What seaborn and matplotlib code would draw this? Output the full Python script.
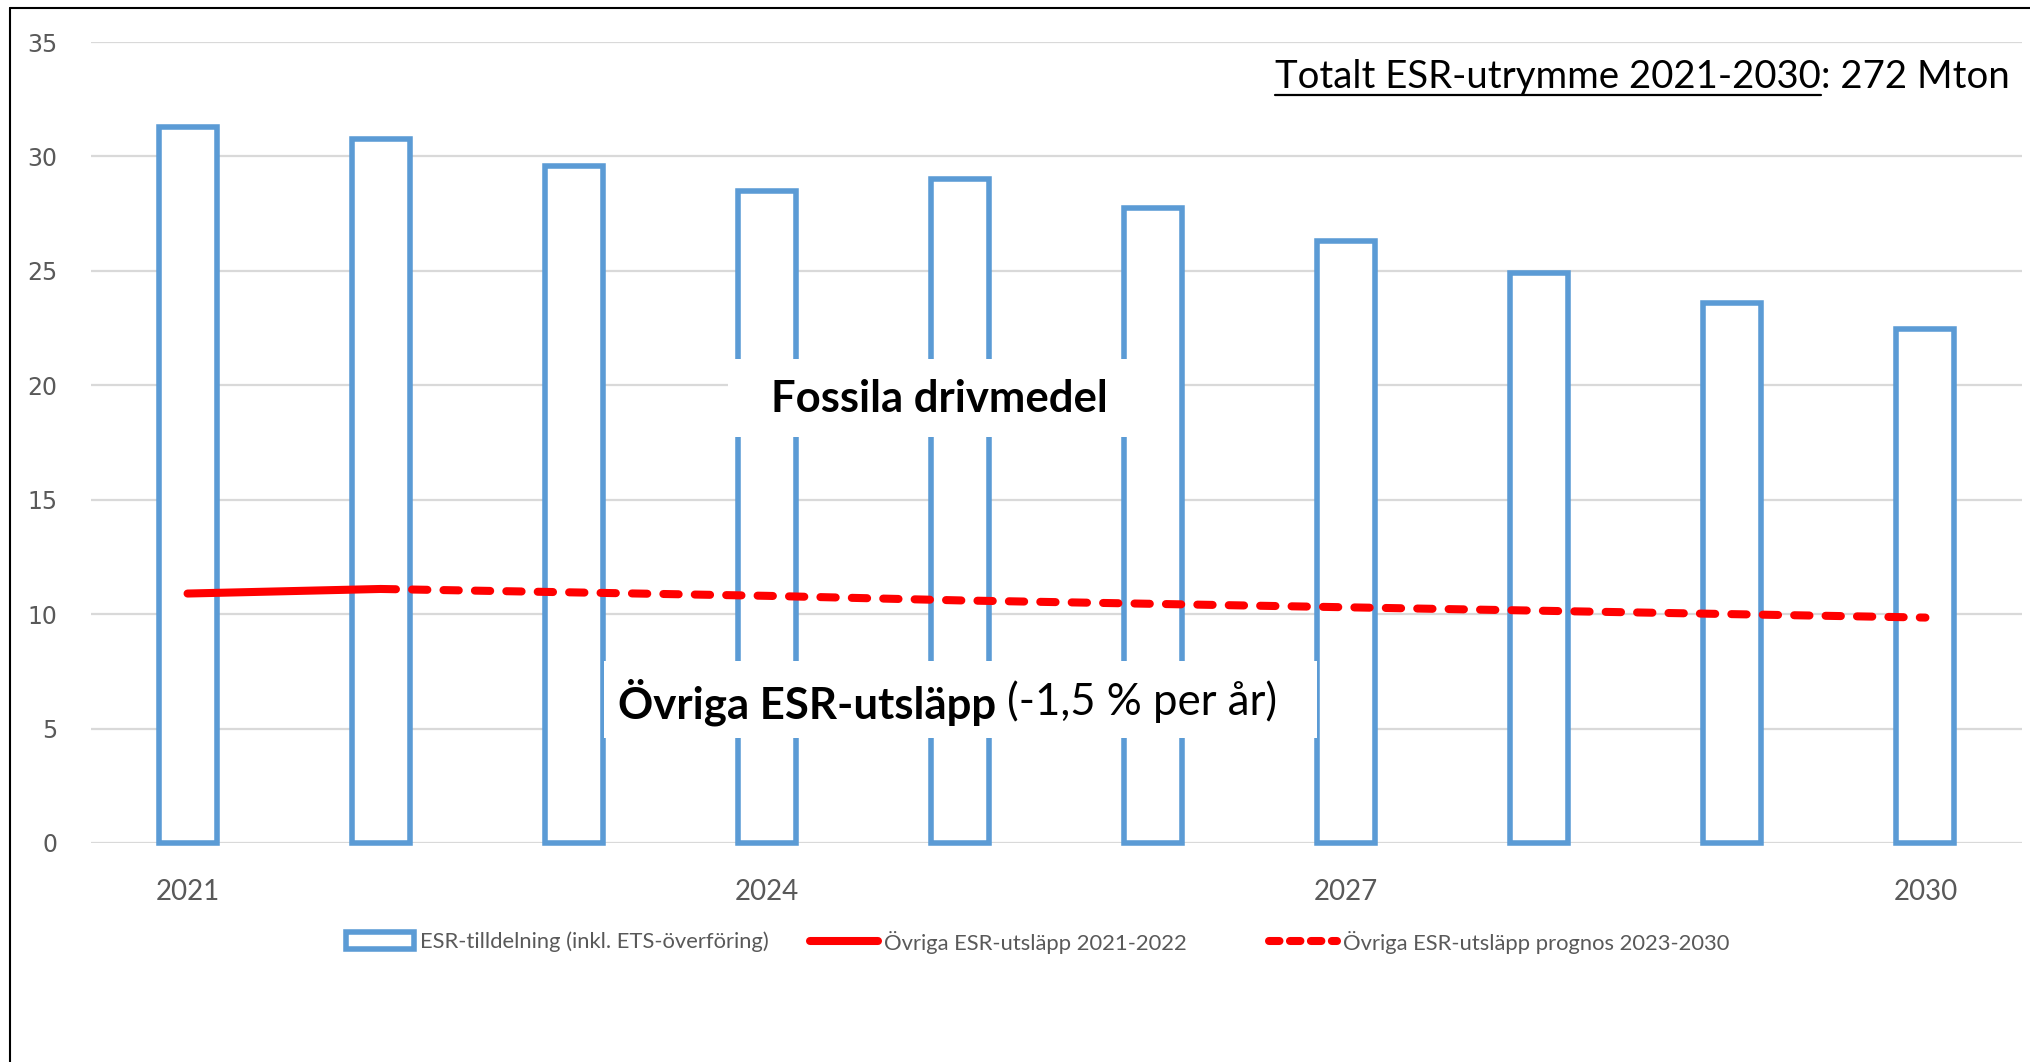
import matplotlib
matplotlib.use("Agg")
import matplotlib.pyplot as plt
import seaborn as sns
import pandas as pd
from matplotlib.lines import Line2D
from matplotlib.patches import Rectangle, Patch

# ---------------- data ----------------
years = [2021, 2022, 2023, 2024, 2025, 2026, 2027, 2028, 2029, 2030]
allocation = [31.3, 30.75, 29.6, 28.5, 29.0, 27.75, 26.3, 24.9, 23.6, 22.45]
actual_years = [2021, 2022]
actual = [10.9, 11.1]
forecast_years = [2022, 2023, 2024, 2025, 2026, 2027, 2028, 2029, 2030]
forecast = [11.1, 10.95, 10.8, 10.6, 10.45, 10.3, 10.15, 10.0, 9.85]
xtick_years = [2021, 2024, 2027, 2030]
yticks = [0, 5, 10, 15, 20, 25, 30, 35]

title_underlined = "Totalt ESR-utrymme 2021-2030"
title_rest = ": 272 Mton"
label_fossil = "Fossila drivmedel"
label_other_bold = "Övriga ESR-utsläpp"
label_other_rest = "(-1,5 % per år)"
legend_labels = ["ESR-tilldelning (inkl. ETS-överföring)",
                 "Övriga ESR-utsläpp 2021-2022",
                 "Övriga ESR-utsläpp prognos 2023-2030"]

BLUE = "#5B9BD5"
RED = "#FF0000"
GRAY = "#595959"
GRID = "#D9D9D9"
FONT = "Lato"

W, H = 2031, 1062
sns.set_style("white")
plt.rcParams["font.family"] = [FONT, "DejaVu Sans"]

fig = plt.figure(figsize=(W / 100, H / 100), dpi=100)
ax = fig.add_axes([91 / W, 1 - 843 / H, (2022 - 91) / W, (843 - 42) / H])

df = pd.DataFrame({"year": years, "allocation": allocation})
sns.barplot(data=df, x="year", y="allocation", native_scale=True, width=0.30,
            color="white", saturation=1, edgecolor=BLUE, linewidth=4.0,
            errorbar=None, ax=ax, zorder=2)
for p in ax.patches:
    p.set_clip_on(False)

sns.lineplot(x=actual_years, y=actual, color=RED, linewidth=5.8,
             solid_capstyle="round", ax=ax, zorder=5)
sns.lineplot(x=forecast_years, y=forecast, color=RED, linewidth=5.8,
             linestyle=(0, (1.9, 2.0)), dash_capstyle="round", ax=ax, zorder=5)

ax.set_xlim(2020.5, 2030.5)
ax.set_ylim(0, 35)
ax.set_xticks(xtick_years)
ax.set_xticklabels([str(y) for y in xtick_years], fontsize=20, color=GRAY,
                   family=[FONT])
ax.set_yticks(yticks)
ax.set_yticklabels([str(v) for v in yticks], fontsize=17, color=GRAY,
                   family=["DejaVu Sans"])
ax.tick_params(axis="x", length=0, pad=26)
ax.tick_params(axis="y", length=0, pad=24)
ax.set_xlabel("")
ax.set_ylabel("")
for s in ax.spines.values():
    s.set_visible(False)
ax.yaxis.grid(True, color=GRID, linewidth=1.6, zorder=0)
ax.set_axisbelow(True)

# white boxes behind annotations
ax.add_patch(Rectangle((2023.80, 17.74), 2.335, 3.41, facecolor="white",
                       edgecolor="none", zorder=3))
ax.add_patch(Rectangle((2023.157, 4.59), 3.69, 3.36, facecolor="white",
                       edgecolor="none", zorder=3))

# frame lines (left and top)
fig.add_artist(Line2D([10 / W, 10 / W], [0, 1 - 8 / H], color="black", lw=1.5))
fig.add_artist(Line2D([10 / W, 1], [1 - 8 / H, 1 - 8 / H], color="black", lw=1.5))

fig.canvas.draw()
r = fig.canvas.get_renderer()


def wpx(t):
    return t.get_window_extent(r).width


# ---- title (top right) ----
t1 = fig.text(0, 1 - 88 / H, title_underlined, ha="left", va="baseline",
              fontsize=10, color="black")
t2 = fig.text(0, 1 - 88 / H, title_rest, ha="left", va="baseline",
              fontsize=10, color="black")
s = 10 * 734 / (wpx(t1) + wpx(t2))
t1.set_fontsize(s)
t2.set_fontsize(s)
w1, w2 = wpx(t1), wpx(t2)
x_right = 2010
t2.set_x((x_right - w2) / W)
t1.set_x((x_right - w2 - w1) / W)
fig.add_artist(Line2D([(x_right - w2 - w1) / W, (x_right - w2) / W],
                      [1 - 95 / H, 1 - 95 / H], color="black", lw=1.6))

# ---- Fossila drivmedel ----
tf = fig.text(939 / W, 1 - 399 / H, label_fossil, ha="center", va="center",
              fontsize=10, fontweight="bold", color="black", zorder=6)
tf.set_fontsize(10 * 339 / wpx(tf))

# ---- Övriga ESR-utsläpp ----
tb = fig.text(618 / W, 1 - 702 / H, label_other_bold, ha="left", va="center",
              fontsize=10, fontweight="bold", color="black", zorder=6)
tr = fig.text(0, 1 - 702 / H, label_other_rest, ha="left", va="center",
              fontsize=10, color="black", zorder=6)
gap_em = 0.25
s2 = 10 * 660 / (wpx(tb) + wpx(tr) + gap_em * 10 * 100 / 72)
tb.set_fontsize(s2)
tr.set_fontsize(s2)
tr.set_x((618 + wpx(tb) + gap_em * s2 * 100 / 72) / W)

# ---- legend: three separate entries ----
leg_size = 15.8
handles = [
    Patch(facecolor="white", edgecolor=BLUE, linewidth=4.0),
    Line2D([], [], color=RED, lw=5.8, solid_capstyle="round"),
    Line2D([], [], color=RED, lw=5.8, linestyle=(0, (1.3, 1.3)),
           dash_capstyle="round"),
]
starts = [346, 810, 1269]
fs_px = leg_size * 100 / 72
for h, lab, x0 in zip(handles, legend_labels, starts):
    lg = fig.legend([h], [lab], loc="center left",
                    bbox_to_anchor=(x0 / W, 1 - 942 / H), frameon=False,
                    prop={"family": FONT, "size": leg_size},
                    handlelength=68 / fs_px, handleheight=0.8,
                    handletextpad=6 / fs_px, borderpad=0, borderaxespad=0)
    for t in lg.get_texts():
        t.set_color(GRAY)

fig.savefig("out.png", dpi=100)
